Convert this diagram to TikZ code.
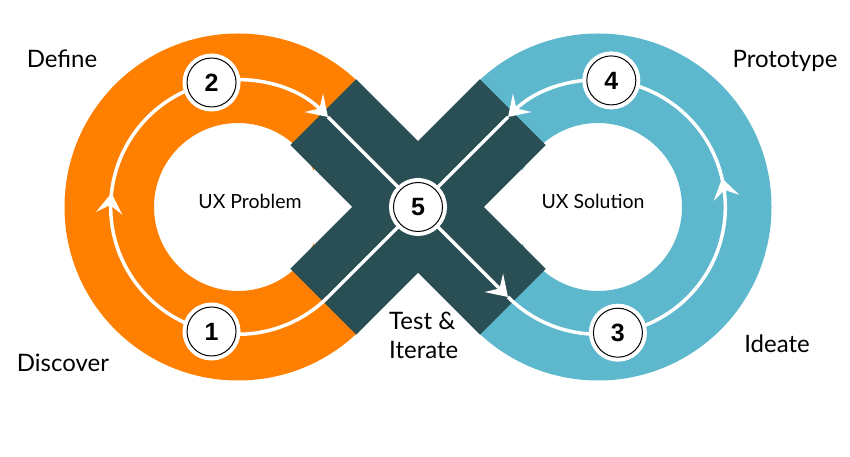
\documentclass[tikz,border=0pt]{standalone}
\usepackage{fontspec}
\setmainfont{Lato}
\newfontfamily\numfont{Liberation Sans}
\usetikzlibrary{arrows.meta,decorations.markings,calc}
\definecolor{Orng}{HTML}{FF7F00}
\definecolor{Teal}{HTML}{5DB7CD}
\definecolor{Slate}{HTML}{294E54}
\def\rl{127.28pt}

\begin{document}
\begin{tikzpicture}[x=1pt,y=1pt,
 flow/.style={white,line width=3.5pt},
 flowtip/.style={-{Stealth[length=20pt,width=26pt,inset=8pt]}},
 midtip/.style={decoration={markings,mark=at position #1 with {\arrow{Stealth[length=20pt,width=26pt,inset=8pt]}}},postaction=decorate},
 badge/.style={circle,draw=black,line width=1pt,fill=white,minimum size=49pt,inner sep=0pt,
  preaction={draw=white,line width=9pt},font=\numfont\bfseries\fontsize{25}{25}\selectfont},
 lbl/.style={font=\fontsize{24}{29}\selectfont,inner sep=0pt},
 hole/.style={font=\fontsize{19.5}{21}\selectfont,inner sep=0pt}]
\useasboundingbox (0,0) rectangle (850,457);
\coordinate (L) at (238,250);\coordinate (R) at (598,250);
\coordinate (p5) at (418,250);
\coordinate (p1) at ($(L)+(258:\rl)$);\coordinate (p2) at ($(L)+(102:\rl)$);
\coordinate (p3) at ($(R)+(-81:\rl)$);\coordinate (p4) at ($(R)+(84:\rl)$);
\coordinate (t1) at ($(L)+(-45:\rl)$);\coordinate (t2) at ($(L)+(45:\rl)$);
\coordinate (t3) at ($(R)+(225:\rl)$);\coordinate (t4) at ($(R)+(135:\rl)$);
% the two rings
\fill[Orng,even odd rule] (L) circle (173.5pt) (L) circle (84pt);
\fill[Teal,even odd rule] (R) circle (173.5pt) (R) circle (84pt);
\fill[white] (354,250) -- (314,290) -- (314,210) -- cycle;
\fill[white] (482,250) -- (522,290) -- (522,210) -- cycle;
% the cross
\draw[Slate,line width=93pt] ($(p5)+(135:134pt)$) -- ($(p5)+(-45:134pt)$);
\draw[Slate,line width=93pt] ($(p5)+(45:134pt)$) -- ($(p5)+(225:134pt)$);
% white loops
\draw[flow,midtip=0.54] (p1) arc[start angle=258,end angle=102,radius=\rl];
\draw[flow,flowtip] (p2) arc[start angle=102,end angle=45,radius=\rl];
\draw[flow] (t2) -- (p5);
\draw[flow] (p5) -- (t1) arc[start angle=-45,end angle=-102,radius=\rl];
\draw[flow,flowtip] (p5) -- (t3);
\draw[flow] (t3) arc[start angle=225,end angle=279,radius=\rl];
\draw[flow,midtip=0.57] (p3) arc[start angle=-81,end angle=84,radius=\rl];
\draw[flow,flowtip] (p4) arc[start angle=84,end angle=135,radius=\rl];
\draw[flow] (t4) -- (p5);
% steps
\node[badge] (n1) at (p1) {1};
\node[badge] (n2) at (p2) {2};
\node[badge] (n3) at (p3) {3};
\node[badge] (n4) at (p4) {4};
\node[badge] (n5) at (p5) {5};
\node[lbl,anchor=base] (define) at (62,389) {Define};
\node[lbl,anchor=base] (discover) at (63,85) {Discover};
\node[lbl,anchor=base] (prototype) at (785,389) {Prototype};
\node[lbl,anchor=base] (ideate) at (777,104) {Ideate};
\node[lbl,anchor=north west,align=left] (test) at (389,145) {Test \&\\Iterate};
\node[hole,anchor=base] (problem) at (250,248) {UX Problem};
\node[hole,anchor=base] (solution) at (593,248) {UX Solution};
\end{tikzpicture}
\end{document}
